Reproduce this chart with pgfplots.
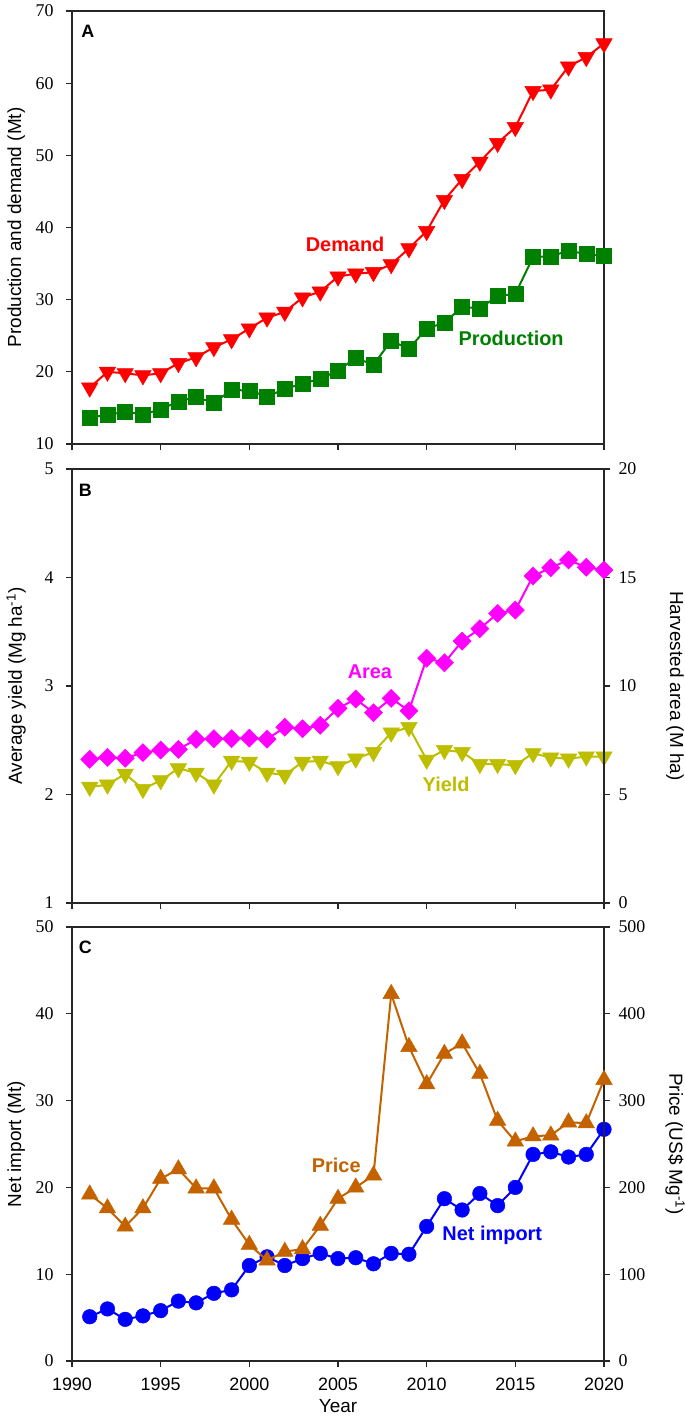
\documentclass[border=0pt]{standalone}
\usepackage{fontspec}
\setmainfont{Liberation Sans}
\newfontfamily\tnr{Liberation Serif}
\usepackage{pgfplots}
\usepackage{pgfplotstable}
\pgfplotsset{compat=1.18}
\definecolor{dem}{RGB}{255,0,0}
\definecolor{prod}{RGB}{0,128,0}
\definecolor{areac}{RGB}{255,0,255}
\definecolor{yld}{RGB}{190,190,0}
\definecolor{pricec}{RGB}{196,98,0}
\definecolor{imp}{RGB}{0,0,255}

\pgfplotstableread{
year demand prod area yield price imp
1991 17.8 13.7 6.62 2.07 192 5.1
1992 20.0 14.0 6.71 2.09 176 6.0
1993 19.8 14.5 6.67 2.19 155 4.8
1994 19.5 14.1 6.93 2.05 176 5.2
1995 19.8 14.8 7.05 2.13 210 5.8
1996 21.2 15.9 7.08 2.24 221 6.9
1997 22.0 16.5 7.54 2.20 199 6.7
1998 23.4 15.7 7.57 2.09 199 7.8
1999 24.5 17.5 7.57 2.31 163 8.2
2000 26.0 17.4 7.60 2.30 134 11.0
2001 27.5 16.6 7.55 2.20 116 12.0
2002 28.3 17.6 8.10 2.18 126 11.0
2003 30.3 18.4 8.03 2.30 129 11.8
2004 31.1 19.0 8.19 2.31 156 12.4
2005 33.2 20.2 8.97 2.26 187 11.8
2006 33.6 21.9 9.40 2.33 200 11.9
2007 33.8 21.0 8.77 2.39 214 11.2
2008 34.9 24.3 9.43 2.57 423 12.4
2009 37.1 23.2 8.86 2.62 362 12.3
2010 39.5 26.0 11.28 2.32 319 15.5
2011 43.8 26.8 11.07 2.41 354 18.7
2012 46.7 29.0 12.07 2.39 366 17.4
2013 49.1 28.8 12.64 2.28 331 19.3
2014 51.7 30.5 13.35 2.28 277 17.9
2015 53.9 30.8 13.50 2.27 253 20.0
2016 58.9 35.9 15.07 2.38 259 23.8
2017 59.1 36.0 15.45 2.34 260 24.1
2018 62.3 36.8 15.81 2.33 275 23.5
2019 63.6 36.3 15.47 2.35 274 23.8
2020 65.5 36.1 15.35 2.35 324 26.7
}\data

\tikzset{
  lab/.style={font=\bfseries\fontsize{20}{20}\selectfont, anchor=center},
  plab/.style={font=\bfseries\fontsize{18}{18}\selectfont, anchor=center}
}
\pgfplotsset{
  base/.style={scale only axis, width=532bp, height=434bp,
    xmin=1990, xmax=2020, xtick={1990,1995,...,2020},
    tick align=outside, major tick length=6bp,
    axis line style={line width=1.1bp, black!85},
    every tick/.style={line width=1.1bp, black!85},
    /pgf/number format/assume math mode=true,
    /pgf/number format/1000 sep={},
    yticklabel style={font=\tnr\fontsize{18}{18}\selectfont},
    xticklabel style={font=\fontsize{18}{18}\selectfont, yshift=-7bp},
    every axis y label/.style={at={(axis description cs:-0.105,0.5)}, rotate=90, anchor=center, font=\fontsize{19}{19}\selectfont},
    clip=false},
  leftax/.style={base, xtick pos=bottom, ytick pos=left,
    yticklabel style={xshift=-9bp}},
  rightax/.style={base, axis x line=none, axis y line*=right,
    yticklabel style={xshift=5bp},
    every axis y label/.style={at={(axis description cs:1.1335,0.5)}, rotate=-90, anchor=center, font=\fontsize{19}{19}\selectfont}},
  ser/.style={line width=2bp, color=#1, mark options={fill=#1, draw=#1, line width=0.5bp, solid}},
  dtri/.style={mark=triangle*, mark size=9.5bp, every mark/.append style={rotate=180}},
  utri/.style={mark=triangle*, mark size=9.5bp},
  sq/.style={mark=square*, mark size=7.5bp},
  dia/.style={mark=square*, mark size=6.4bp, every mark/.append style={rotate=45}},
  circ/.style={mark=*, mark size=7.3bp}
}

\begin{document}
\begin{tikzpicture}
\useasboundingbox (0,0) rectangle (685bp,-1419bp);

% Panel A
\begin{axis}[leftax, at={(72bp,-11bp)}, anchor=north west, height=433bp,
  ymin=10, ymax=70, ytick={10,20,...,70}, xticklabels={},
  ylabel={Production and demand (Mt)}]
\addplot[ser=prod, sq] table[x=year, y=prod] {\data};
\addplot[ser=dem, dtri] table[x=year, y=demand] {\data};
\node[plab] at (axis description cs:0.030,0.954) {A};
\node[lab, text=dem] at (axis cs:2005.4,37.6) {Demand};
\node[lab, text=prod] at (axis cs:2014.76,24.7) {Production};
\end{axis}

% Panel B
\begin{axis}[leftax, at={(72bp,-469bp)}, anchor=north west,
  ymin=1, ymax=5, ytick={1,2,...,5}, xticklabels={},
  ylabel={Average yield (Mg ha\textsuperscript{-1})}]
\addplot[ser=yld, dtri] table[x=year, y=yield] {\data};
\node[plab] at (axis description cs:0.025,0.952) {B};
\node[lab, text=yld] at (axis cs:2011.1,2.09) {Yield};
\end{axis}
\begin{axis}[rightax, at={(72bp,-469bp)}, anchor=north west,
  ymin=0, ymax=20, ytick={0,5,...,20},
  ylabel={Harvested area (M ha)}]
\addplot[ser=areac, dia] table[x=year, y=area] {\data};
\node[lab, text=areac] at (axis cs:2006.8,10.65) {Area};
\end{axis}

% Panel C
\begin{axis}[leftax, at={(72bp,-927bp)}, anchor=north west,
  ymin=0, ymax=50, ytick={0,10,...,50},
  ylabel={Net import (Mt)}, xlabel={Year},
  every axis x label/.style={at={(axis description cs:0.5,0)}, yshift=-45bp, anchor=center, font=\fontsize{19}{19}\selectfont}]
\addplot[ser=imp, circ] table[x=year, y=imp] {\data};
\node[plab] at (axis description cs:0.025,0.954) {C};
\node[lab, text=imp] at (axis cs:2013.7,14.5) {Net import};
\end{axis}
\begin{axis}[rightax, at={(72bp,-927bp)}, anchor=north west,
  ymin=0, ymax=500, ytick={0,100,...,500},
  ylabel={Price (US\$ Mg\textsuperscript{-1})}]
\addplot[ser=pricec, utri] table[x=year, y=price] {\data};
\node[lab, text=pricec] at (axis cs:2004.9,225.8) {Price};
\end{axis}
\end{tikzpicture}
\end{document}
